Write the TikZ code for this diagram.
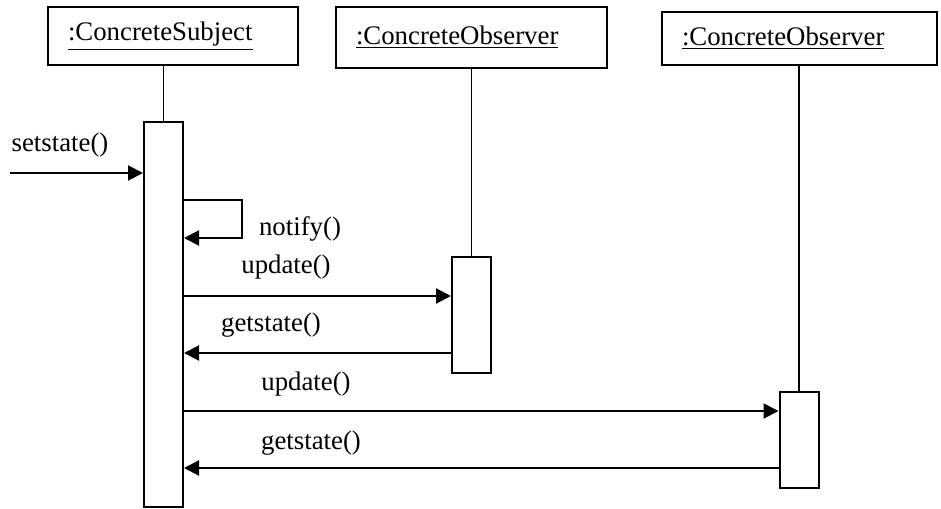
\documentclass[tikz,border=0pt]{standalone}
\usepackage{fontspec}
\setmainfont{Liberation Serif}
\usetikzlibrary{arrows.meta}
\tikzset{
	objbox/.style={draw, line width=1pt, inner xsep=10pt, align=left, text width=#1},
	actbox/.style={draw, line width=1pt, fill=white, inner sep=0pt, minimum width=19.5pt},
	life/.style={line width=0.9pt},
	msg/.style={line width=1pt, -{Triangle[length=7.5pt,width=7.5pt]}},
	lbl/.style={inner sep=0pt}
}

\begin{document}
\begin{tikzpicture}[x=0.5pt,y=-0.5pt,font=\fontsize{13.4}{16}\selectfont]
	\useasboundingbox (0,0) rectangle (941,508);

	\node[objbox=105pt, minimum height=29pt] (subj) at (173,36) {\underline{:ConcreteSubject}};
	\node[objbox=115.5pt, minimum height=30.5pt] (obsA) at (471.5,37.5) {\underline{:ConcreteObserver}};
	\node[objbox=117.5pt, minimum height=26.5pt] (obsB) at (799.5,38.5) {\underline{:ConcreteObserver}};

	\node[actbox, minimum height=192.5pt] (act1) at (163.5,314.5) {};
	\node[actbox, minimum height=58pt] (act2) at (471.5,315) {};
	\node[actbox, minimum height=48pt] (act3) at (799,440) {};

	\draw[life] (act1.north |- subj.south) -- (act1.north);
	\draw[life] (act2.north |- obsA.south) -- (act2.north);
	\draw[life] (act3.north |- obsB.south) -- (act3.north);

	\coordinate (start) at (10,173);
	\coordinate (loopA) at (0,200);
	\coordinate (loopB) at (0,238);
	\coordinate (updA) at (0,296);
	\coordinate (getA) at (0,353);
	\coordinate (updB) at (0,411);
	\coordinate (getB) at (0,468);

	\draw[msg] (start) -- (start -| act1.west);
	\draw[msg] (act1.east |- loopA) -- ++(58,0) |- (act1.east |- loopB);
	\draw[msg] (act1.east |- updA) -- (act2.west |- updA);
	\draw[msg] (act2.west |- getA) -- (act1.east |- getA);
	\draw[msg] (act1.east |- updB) -- (act3.west |- updB);
	\draw[msg] (act3.west |- getB) -- (act1.east |- getB);

	\node[lbl] (setstate) at (60,145) {setstate()};
	\node[lbl] (notify) at (300,229) {notify()};
	\node[lbl] (update1) at (286,267) {update()};
	\node[lbl] (getstate1) at (271,325) {getstate()};
	\node[lbl] (update2) at (306,384) {update()};
	\node[lbl] (getstate2) at (311,443) {getstate()};
\end{tikzpicture}
\end{document}
